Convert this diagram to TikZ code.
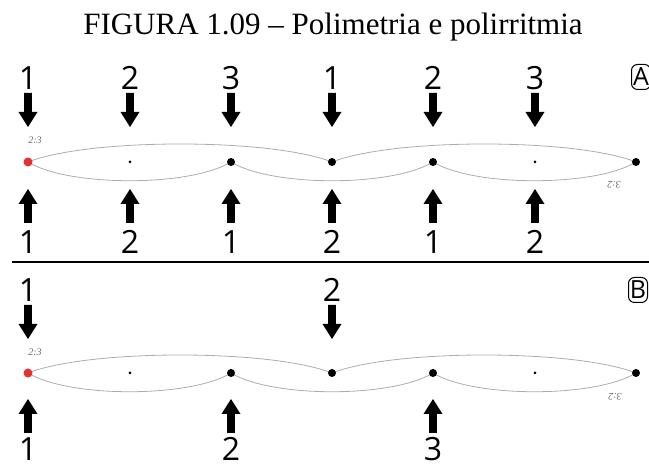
\documentclass[tikz,border=0pt]{standalone}
\usepackage{fontspec}
\setmainfont{Liberation Serif}
\newfontfamily\beatfont{Open Sans}
\definecolor{startred}{RGB}{228,50,50}
\tikzset{
    beatnum/.style={anchor=base, inner sep=0pt,
        font=\beatfont\fontsize{32}{32}\selectfont},
    bigdot/.style={circle, fill=black, inner sep=0pt, minimum size=8pt},
    smalldot/.style={circle, fill=black, inner sep=0pt, minimum size=3pt},
    firstdot/.style={circle, fill=startred, inner sep=0pt, minimum size=9pt},
    ratiolabel/.style={inner sep=0pt, text=gray!80!black,
        font=\itshape\fontsize{10}{10}\selectfont},
    beatarc/.style={gray!65, line width=0.8pt},
    sectionbox/.style={draw, rounded corners=6pt, line width=1pt,
        minimum width=19pt, minimum height=25pt, inner sep=0pt,
        font=\beatfont\fontsize{25}{25}\selectfont},
    downbeat/.pic={
        \fill (-3.8,0) -- (3.8,0) -- (3.8,-19) -- (9.5,-19) -- (0,-34)
            -- (-9.5,-19) -- (-3.8,-19) -- cycle;
    },
    upbeat/.pic={
        \fill (-3.8,0) -- (3.8,0) -- (3.8,19) -- (9.5,19) -- (0,34)
            -- (-9.5,19) -- (-3.8,19) -- cycle;
    },
}

\begin{document}
\begin{tikzpicture}[x=1pt, y=1pt]
    \useasboundingbox (0,0) rectangle (649,468);
    \node[anchor=base, inner sep=0pt, font=\fontsize{31}{31}\selectfont]
        (title) at (333,433) {FIGURA 1.09 – Polimetria e polirritmia};

    % A: 3 contra 2
    \foreach \x/\n [count=\i] in {28/1,130/2,231/3,332/1,433/2,535/3} {
        \node[beatnum] (atop\i) at (\x,378) {\n};
        \pic at (\x,375) {downbeat};
    }
    \foreach \x [count=\i from 0] in {28,130,231,332,433,535,636}
        \coordinate (a\i) at (\x,306);
    \draw[beatarc] (a0) .. controls +(61,24) and +(-61,24) .. (a3)
        .. controls +(61,24) and +(-61,24) .. (a6);
    \draw[beatarc] (a0) .. controls +(41,-25) and +(-41,-25) .. (a2)
        .. controls +(41,-25) and +(-41,-25) .. (a4)
        .. controls +(41,-25) and +(-41,-25) .. (a6);
    \node[firstdot] (adot0) at (a0) {};
    \node[smalldot] (adot1) at (a1) {};
    \node[bigdot] (adot2) at (a2) {};
    \node[bigdot] (adot3) at (a3) {};
    \node[bigdot] (adot4) at (a4) {};
    \node[smalldot] (adot5) at (a5) {};
    \node[bigdot] (adot6) at (a6) {};
    \node[ratiolabel] (aratio) at (35,328) {2:3};
    \node[ratiolabel, rotate=180] (aratioinv) at (614,283) {3:2};
    \foreach \x/\n [count=\i] in {28/1,130/2,231/1,332/2,433/1,535/2} {
        \pic at (\x,245) {upbeat};
        \node[beatnum] (abot\i) at (\x,214) {\n};
    }
    \node[sectionbox] (boxA) at (641,391) {A};

    \draw[line width=1.5pt] (12,206) -- (649,206);

    % B: 2 contra 3
    \foreach \x/\n [count=\i] in {28/1,332/2} {
        \node[beatnum] (btop\i) at (\x,166) {\n};
        \pic at (\x,163) {downbeat};
    }
    \foreach \x [count=\i from 0] in {28,130,231,332,433,535,636}
        \coordinate (b\i) at (\x,95);
    \draw[beatarc] (b0) .. controls +(61,24) and +(-61,24) .. (b3)
        .. controls +(61,24) and +(-61,24) .. (b6);
    \draw[beatarc] (b0) .. controls +(41,-25) and +(-41,-25) .. (b2)
        .. controls +(41,-25) and +(-41,-25) .. (b4)
        .. controls +(41,-25) and +(-41,-25) .. (b6);
    \node[firstdot] (bdot0) at (b0) {};
    \node[smalldot] (bdot1) at (b1) {};
    \node[bigdot] (bdot2) at (b2) {};
    \node[bigdot] (bdot3) at (b3) {};
    \node[bigdot] (bdot4) at (b4) {};
    \node[smalldot] (bdot5) at (b5) {};
    \node[bigdot] (bdot6) at (b6) {};
    \node[ratiolabel] (bratio) at (35,116) {2:3};
    \node[ratiolabel, rotate=180] (bratioinv) at (615,71) {3:2};
    \foreach \x/\n [count=\i] in {28/1,231/2,433/3} {
        \pic at (\x,35) {upbeat};
        \node[beatnum] (bbot\i) at (\x,7) {\n};
    }
    \node[sectionbox] (boxB) at (638,178) {B};
\end{tikzpicture}
\end{document}
